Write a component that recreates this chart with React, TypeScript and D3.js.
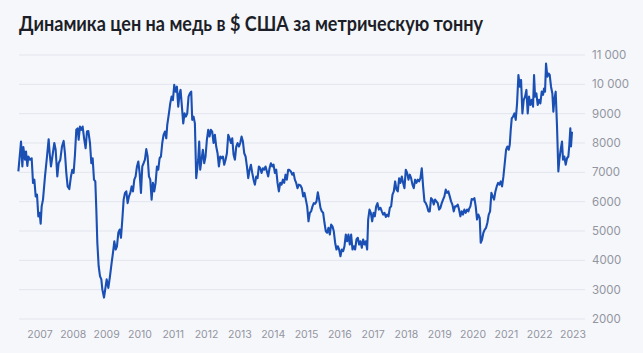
import React from "react";
import * as d3 from "d3";

// decimal years (weekly-ish samples)
const years = [
  2006.35, 2006.43, 2006.47, 2006.5, 2006.55, 2006.58, 2006.62, 2006.65, 2006.7, 2006.75,
  2006.79, 2006.83, 2006.87, 2006.91, 2006.95, 2006.99, 2007.02, 2007.05, 2007.09, 2007.15,
  2007.21, 2007.26, 2007.29, 2007.33, 2007.38, 2007.43, 2007.47, 2007.52, 2007.56, 2007.61,
  2007.66, 2007.71, 2007.75, 2007.79, 2007.83, 2007.88, 2007.93, 2007.97, 2008.01, 2008.05,
  2008.09, 2008.13, 2008.16, 2008.2, 2008.24, 2008.28, 2008.33, 2008.37, 2008.41, 2008.45,
  2008.5, 2008.54, 2008.58, 2008.62, 2008.66, 2008.69, 2008.72, 2008.76, 2008.8, 2008.84,
  2008.87, 2008.92,
  2009.0, 2009.05, 2009.1, 2009.15, 2009.19, 2009.23, 2009.27, 2009.31, 2009.35, 2009.39,
  2009.43, 2009.47, 2009.51, 2009.55, 2009.59, 2009.63, 2009.67, 2009.71, 2009.75, 2009.79,
  2009.83, 2009.87, 2009.91, 2009.95, 2009.99, 2010.03, 2010.07, 2010.11, 2010.15, 2010.19,
  2010.23, 2010.27, 2010.31, 2010.35, 2010.39, 2010.43, 2010.47, 2010.51, 2010.55, 2010.59,
  2010.63, 2010.67, 2010.71, 2010.75, 2010.79, 2010.82, 2010.87, 2010.91, 2010.95, 2010.99,
  2011.03, 2011.07, 2011.11, 2011.15, 2011.19, 2011.22, 2011.26, 2011.3, 2011.34, 2011.38,
  2011.42, 2011.46, 2011.5, 2011.54, 2011.57, 2011.61, 2011.65, 2011.69,
  2011.75, 2011.78, 2011.81, 2011.85, 2011.89, 2011.93, 2011.97, 2012.01, 2012.05, 2012.09,
  2012.13, 2012.17, 2012.21, 2012.25, 2012.29, 2012.33, 2012.37, 2012.41, 2012.45, 2012.49,
  2012.53, 2012.57, 2012.61, 2012.65, 2012.69, 2012.73, 2012.77, 2012.81, 2012.85, 2012.89,
  2012.93, 2012.97, 2013.01, 2013.05, 2013.09, 2013.13, 2013.17, 2013.21, 2013.25, 2013.29,
  2013.33, 2013.37, 2013.41, 2013.45, 2013.49, 2013.53, 2013.57, 2013.61, 2013.65, 2013.69,
  2013.73, 2013.77, 2013.81, 2013.85, 2013.89, 2013.93, 2013.97, 2014.01, 2014.05, 2014.09,
  2014.13, 2014.17, 2014.21, 2014.25, 2014.29, 2014.33, 2014.37, 2014.41, 2014.45,
  2014.48, 2014.53, 2014.57, 2014.61, 2014.65, 2014.69, 2014.73, 2014.77, 2014.82, 2014.86,
  2014.9, 2014.94, 2014.98, 2015.02, 2015.06, 2015.1, 2015.14, 2015.18, 2015.22, 2015.26,
  2015.3, 2015.34, 2015.38, 2015.42, 2015.46, 2015.5, 2015.54, 2015.58, 2015.62, 2015.66,
  2015.7, 2015.74, 2015.78, 2015.82, 2015.86, 2015.9, 2015.94, 2015.98, 2016.02, 2016.06,
  2016.1, 2016.14, 2016.18, 2016.22, 2016.26, 2016.3, 2016.34, 2016.38, 2016.42, 2016.46,
  2016.5, 2016.54, 2016.58, 2016.62, 2016.66, 2016.7, 2016.74, 2016.78, 2016.82, 2016.85,
  2016.89, 2016.93, 2016.97, 2017.01, 2017.05, 2017.09, 2017.13, 2017.17,
  2017.22, 2017.26, 2017.3, 2017.34, 2017.38, 2017.42, 2017.46, 2017.5, 2017.54, 2017.58,
  2017.62, 2017.66, 2017.7, 2017.74, 2017.78, 2017.82, 2017.86, 2017.9, 2017.94, 2017.98,
  2018.02, 2018.06, 2018.1, 2018.14, 2018.18, 2018.22, 2018.26, 2018.3, 2018.34, 2018.38,
  2018.42, 2018.46, 2018.5, 2018.54, 2018.58, 2018.62, 2018.66, 2018.7, 2018.74, 2018.78,
  2018.82, 2018.86, 2018.9, 2018.94, 2018.98, 2019.02, 2019.06, 2019.1, 2019.14, 2019.18,
  2019.22, 2019.26, 2019.3, 2019.34, 2019.38, 2019.42, 2019.46, 2019.5, 2019.54, 2019.58,
  2019.62, 2019.66, 2019.7, 2019.74, 2019.78, 2019.82, 2019.86,
  2019.88, 2019.92, 2019.96, 2020.0, 2020.04, 2020.08, 2020.12, 2020.16, 2020.2, 2020.23,
  2020.27, 2020.31, 2020.35, 2020.39, 2020.43, 2020.47, 2020.51, 2020.55, 2020.59, 2020.63,
  2020.67, 2020.71, 2020.75, 2020.79, 2020.83, 2020.87, 2020.91, 2020.95, 2020.99, 2021.03,
  2021.07, 2021.1, 2021.13, 2021.16, 2021.2, 2021.24, 2021.28, 2021.32, 2021.36, 2021.4,
  2021.44, 2021.48, 2021.52, 2021.56, 2021.6, 2021.64, 2021.68, 2021.72, 2021.76, 2021.8,
  2021.83, 2021.86, 2021.9, 2021.94, 2021.98, 2022.02, 2022.06, 2022.1, 2022.13, 2022.16,
  2022.19, 2022.23, 2022.27, 2022.3, 2022.34, 2022.38, 2022.41, 2022.44, 2022.48, 2022.52,
  2022.56, 2022.59, 2022.63, 2022.67, 2022.7, 2022.74, 2022.78, 2022.82, 2022.86, 2022.89,
  2022.92, 2022.94, 2022.97,
];

// price, USD per tonne
const prices = [
  7030, 8050, 7200, 7860, 7430, 7710, 7220, 7540, 7430, 7480,
  6640, 6750, 6180, 6240, 5500, 5620, 5250, 5840, 6070, 6860,
  7540, 8130, 7650, 7200, 7600, 8000, 7770, 6860, 7310, 7430,
  7880, 8070, 7650, 6980, 6520, 6430, 6860, 7090, 6980, 7600,
  8450, 8500, 8110, 8560, 8450, 8560, 8110, 7820, 8390, 8410,
  8000, 7310, 7480, 6750, 6690, 5730, 4600, 3800, 3460, 3350,
  3010, 2730,
  3350, 3060, 3460, 3920, 4260, 4650, 4370, 4480, 4940, 5050,
  4770, 5390, 6070, 6300, 6350, 5950, 6180, 6300, 6520, 6350,
  6750, 6860, 7200, 7370, 6980, 6300, 7200, 7310, 7430, 7790,
  7540, 6860, 6750, 6070, 6640, 6350, 6640, 7200, 7090, 7480,
  7540, 8000, 8280, 8390, 8160, 8620, 9010, 9350, 9580, 9460,
  9980, 9750, 9920, 9240, 9690, 9810, 9240, 8670, 9010, 8900,
  9010, 9580, 9690, 9750, 8790, 8900, 8670, 6800,
  7430, 8050, 7090, 7430, 7770, 7310, 7540, 8110, 8450, 8220,
  8450, 8390, 8000, 8280, 7880, 7650, 7200, 7540, 7480, 7540,
  7260, 7430, 7650, 8280, 8160, 8000, 8160, 7600, 7430, 7880,
  8000, 7880, 8000, 8220, 8050, 7650, 7540, 7200, 6800, 7090,
  7260, 6980, 6750, 6580, 6860, 6800, 7200, 7140, 6980, 7140,
  7090, 7200, 7030, 6860, 7140, 7310, 7200, 7260, 6980, 7090,
  6640, 6350, 6640, 6580, 6750, 6640, 6920, 6750, 7090,
  7090, 7030, 6920, 6980, 6750, 6640, 6460, 6580, 6550, 6460,
  6180, 6300, 6070, 5840, 5330, 5620, 5670, 5840, 5950, 5930,
  6010, 6320, 6070, 5790, 5670, 5620, 5280, 4990, 4940, 5110,
  4880, 5220, 5160, 4990, 4600, 4370, 4480, 4370, 4140, 4370,
  4310, 4480, 4880, 4650, 4880, 4540, 4880, 4370, 4480, 4370,
  4710, 4770, 4540, 4650, 4430, 4710, 4540, 4650, 4370, 5390,
  5730, 5620, 5330, 5620, 5500, 5840, 5950, 5730,
  5790, 5670, 5560, 5620, 5480, 5560, 5500, 5790, 5840, 6240,
  6350, 6690, 6410, 6350, 6800, 6640, 6860, 6640, 6460, 7090,
  6980, 6750, 6920, 6800, 6580, 6460, 6750, 6640, 6750, 6690,
  6800, 7140, 6520, 6010, 5950, 5840, 5670, 5670, 6120, 6070,
  5900, 6070, 6010, 5950, 5730, 5790, 5950, 6070, 6180, 6410,
  6300, 6350, 6180, 6010, 5900, 5670, 5840, 5840, 5900, 5730,
  5500, 5670, 5560, 5730, 5620, 5730, 5670,
  5750, 5840, 6090, 6070, 6120, 5840, 5390, 5560, 5450, 4600,
  4710, 4940, 5050, 5110, 5280, 5560, 5670, 6300, 6180, 6070,
  6350, 6520, 6640, 6580, 6690, 6520, 6860, 7310, 7770, 7880,
  7770, 7940, 8450, 8840, 8900, 9010, 8790, 9350, 10320, 9920,
  10150, 9010, 9470, 9580, 9810, 9010, 9580, 9300, 9470, 9240,
  10320, 9580, 9690, 9300, 9470, 9350, 9750, 9640, 9860, 9750,
  10710, 10260, 10370, 10320, 9920, 9690, 9070, 9470, 9750, 8560,
  7030, 7430, 7770, 8050, 7430, 7540, 7260, 7480, 7540, 7940,
  8500, 7880, 8390,
];

const yTicks = [2000, 3000, 4000, 5000, 6000, 7000, 8000, 9000, 10000, 11000];
const yTickLabels = ["2000", "3000", "4000", "5000", "6000", "7000", "8000", "9000", "10 000", "11 000"];
const xTickYears = [2007, 2008, 2009, 2010, 2011, 2012, 2013, 2014, 2015, 2016, 2017, 2018, 2019, 2020, 2021, 2022, 2023];

const W = 643;
const H = 353;
const FONT = "Inter, 'Noto Sans', sans-serif";

function toDate(t: number) {
  const y = Math.floor(t);
  const a = new Date(y, 0, 1).getTime();
  const b = new Date(y + 1, 0, 1).getTime();
  return new Date(a + (t - y) * (b - a));
}

export default function App() {
  const x = d3.scaleTime().domain([new Date(2007, 0, 1), new Date(2023, 0, 1)]).range([40, 573]);
  const y = d3.scaleLinear().domain([2000, 11000]).range([319, 55]);

  const points = years.map((t, i) => ({ date: toDate(t), value: prices[i] }));
  const line = d3
    .line<{ date: Date; value: number }>()
    .x((d) => x(d.date))
    .y((d) => y(d.value));

  return (
    <svg width={W} height={H} style={{ position: "fixed", left: 0, top: 0, display: "block" }}>
      <rect width={W} height={H} fill="#f6f7fb" />
      <text x={19} y={31} fontFamily="Lato, Inter, sans-serif" fontWeight={700} fontSize={21}
        textLength={464} lengthAdjust="spacingAndGlyphs" fill="#1c1e28">
        Динамика цен на медь в $ США за метрическую тонну
      </text>
      {yTicks.map((v, i) => (
        <g key={v}>
          <line x1={19} x2={585} y1={y(v)} y2={y(v)} stroke="#e2e5ee" strokeWidth={1} />
          <text x={592} y={y(v)} dy="0.36em" fontFamily={FONT} fontSize={11.5} fill="#92959f">
            {yTickLabels[i]}
          </text>
        </g>
      ))}
      {xTickYears.map((yr) => (
        <text key={yr} x={x(new Date(yr, 0, 1))} y={334} dy="0.35em" textAnchor="middle"
          fontFamily={FONT} fontSize={10.5} fill="#92959f">
          {yr}
        </text>
      ))}
      <path d={line(points) ?? ""} fill="none" stroke="#1a4fb4" strokeWidth={2.1} strokeLinejoin="round" />
    </svg>
  );
}
